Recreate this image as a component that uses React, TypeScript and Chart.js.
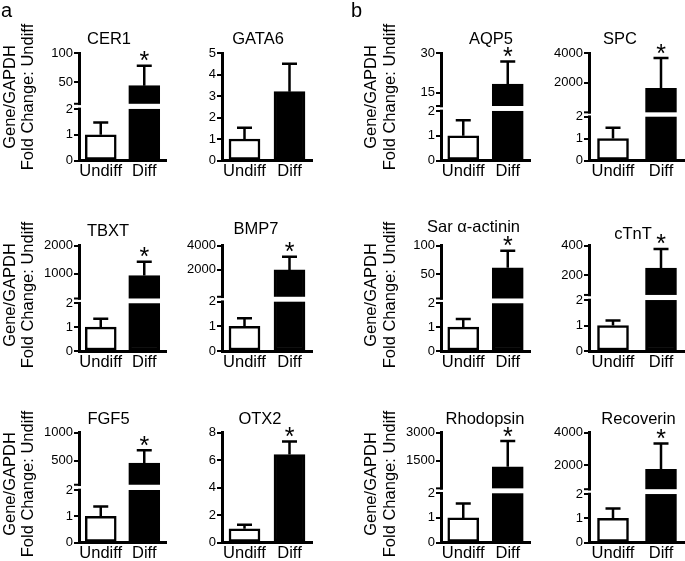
import React, { useEffect, useRef } from 'react';
import { Chart, registerables } from 'chart.js';
Chart.register(...registerables);

const FONT = '"Liberation Sans", Arial, Helvetica, sans-serif';

// ---------------- data ----------------
const genes = ['CER1', 'GATA6', 'AQP5', 'SPC', 'TBXT', 'BMP7', 'Sar α-actinin', 'cTnT', 'FGF5', 'OTX2', 'Rhodopsin', 'Recoverin'];
const categories = ['Undiff', 'Diff'];
const undiffMean = [1, 1, 1, 1, 1, 1, 1, 1, 1, 1, 1, 1];
const undiffSem = [0.47, 0.52, 0.63, 0.5, 0.35, 0.33, 0.34, 0.2, 0.37, 0.3, 0.58, 0.4];
const diffMean = [44, 3.2, 18.2, 1620, 940, 2000, 61, 247, 455, 6.4, 1170, 1730];
const diffSem = [34, 1.3, 8.6, 2040, 484, 1080, 30, 130, 229, 0.94, 1370, 1590];
const significant = [true, false, true, true, true, true, true, true, true, true, true, true];
const yTickLabels = [
  [0, 1, 2, 50, 100], [0, 1, 2, 3, 4, 5], [0, 1, 2, 15, 30], [0, 1, 2, 2000, 4000],
  [0, 1, 2, 1000, 2000], [0, 1, 2, 2000, 4000], [0, 1, 2, 50, 100], [0, 1, 2, 200, 400],
  [0, 1, 2, 500, 1000], [0, 2, 4, 6, 8], [0, 1, 2, 1500, 3000], [0, 1, 2, 2000, 4000],
];
const broken = [true, false, true, true, true, true, true, true, true, false, true, true];
const sideTitle = ['Gene/GAPDH', 'Fold Change: Undiff'];
const panelLetters = ['a', 'b'];

// ---------------- layout / axis-break geometry ----------------
const breakDisp: (number[] | null)[] = [
  [3.04, 4.17], null, [2.74, 4.34], [3.55, 4.91],
  [3.23, 4.42], [3.29, 4.28], [3.22, 4.42], [2.98, 4.14],
  [3.12, 4.19], null, [3.33, 4.47], [3.2, 4.54],
];
const BREAK_TOP = 2.2;
const COLS = [
  { x0: 0, x1: 172, axisX: 79, axisR: 166 },
  { x0: 172, x1: 340, axisX: 222, axisR: 312 },
  { x0: 340, x1: 540, axisX: 441, axisR: 530 },
  { x0: 540, x1: 685, axisX: 589, axisR: 685 },
];
const ROWS = [
  { y0: 0, y1: 185, top: 53, zero: 160.5, side: 97 },
  { y0: 185, y1: 370, top: 245.5, zero: 351, side: 295 },
  { y0: 370, y1: 561, top: 432.5, zero: 542.5, side: 484 },
];
const WY = 40;
const HX = 18;
const titleX = [109, 258, 491, 620, 108, 256, 473.5, 633, 108.5, 260, 485, 638.5];
const titleBase = [43.5, 43.5, 43.5, 43.5, 236, 233.5, 232, 239, 423.5, 424, 423.5, 424];
const sideX = [[10, 28.5], null, [371.5, 390], null];
const letterPos = [[1, 17], [351, 17]];

function toDisp(i: number, v: number) {
  const b = breakDisp[i];
  if (!broken[i] || !b || v <= 2) return v;
  const m = yTickLabels[i][3];
  const t = yTickLabels[i][4];
  return b[0] + ((v - m) * (b[1] - b[0])) / (t - m);
}

function MiniChart({ i }: { i: number }) {
  const ref = useRef<HTMLCanvasElement>(null);
  const row = Math.floor(i / 4);
  const col = i % 4;
  const C = COLS[col];
  const R = ROWS[row];
  const w = C.x1 - C.x0;
  const h = R.y1 - R.y0;

  useEffect(() => {
    const b = breakDisp[i];
    const dispTicks = broken[i] && b ? [0, 1, 2, b[0], b[1]] : yTickLabels[i];
    const yMax = dispTicks[dispTicks.length - 1];
    const means = [undiffMean[i], diffMean[i]];
    const sems = [undiffSem[i], diffSem[i]];

    const decor = {
      id: 'decor',
      afterDatasetsDraw(chart: any) {
        const ctx = chart.ctx;
        const ys = chart.scales.y;
        const meta = chart.getDatasetMeta(0);
        ctx.save();
        if (broken[i]) {
          const y2 = ys.getPixelForValue(2);
          const yU = ys.getPixelForValue(BREAK_TOP);
          meta.data.forEach((el: any, j: number) => {
            if (toDisp(i, means[j]) > BREAK_TOP) {
              ctx.fillStyle = '#fff';
              ctx.fillRect(el.x - el.width / 2 - 1, yU, el.width + 2, y2 - yU);
            }
          });
        }
        ctx.strokeStyle = '#000';
        ctx.lineWidth = 2.5;
        meta.data.forEach((el: any, j: number) => {
          const ye = ys.getPixelForValue(toDisp(i, means[j] + sems[j]));
          ctx.beginPath();
          ctx.moveTo(el.x, el.y);
          ctx.lineTo(el.x, ye);
          ctx.moveTo(el.x - 7.5, ye);
          ctx.lineTo(el.x + 7.5, ye);
          ctx.stroke();
          if (j === 1 && significant[i]) {
            ctx.fillStyle = '#000';
            ctx.font = `25px ${FONT}`;
            ctx.textAlign = 'center';
            ctx.textBaseline = 'alphabetic';
            ctx.fillText('*', el.x, ye + 3.5);
          }
        });
        ctx.restore();
      },
      afterDraw(chart: any) {
        const ctx = chart.ctx;
        const ys = chart.scales.y;
        ctx.save();
        if (broken[i]) {
          const x = chart.chartArea.left;
          const y2 = ys.getPixelForValue(2);
          const yU = ys.getPixelForValue(BREAK_TOP);
          ctx.fillStyle = '#fff';
          ctx.fillRect(x - 3, yU + 1.3, 6, y2 - yU - 2.6);
          ctx.strokeStyle = '#000';
          ctx.lineWidth = 2;
          ctx.beginPath();
          ctx.moveTo(x - 5, yU);
          ctx.lineTo(x + 1.5, yU);
          ctx.stroke();
        }
        ctx.fillStyle = '#000';
        ctx.font = `16.5px ${FONT}`;
        ctx.textAlign = 'center';
        ctx.textBaseline = 'alphabetic';
        ctx.fillText(genes[i], titleX[i] - C.x0, titleBase[i] - R.y0);
        const sx = sideX[col];
        if (sx) {
          sideTitle.forEach((line, k) => {
            ctx.save();
            ctx.translate(sx[k] - C.x0, R.side - R.y0);
            ctx.rotate(-Math.PI / 2);
            ctx.textAlign = 'center';
            ctx.textBaseline = 'middle';
            ctx.font = `16.5px ${FONT}`;
            ctx.fillText(line, 0, 0);
            ctx.restore();
          });
        }
        if (row === 0 && (col === 0 || col === 2)) {
          const li = col === 0 ? 0 : 1;
          ctx.font = `20px ${FONT}`;
          ctx.textAlign = 'left';
          ctx.textBaseline = 'alphabetic';
          ctx.fillText(panelLetters[li], letterPos[li][0] - C.x0, letterPos[li][1] - R.y0);
        }
        ctx.restore();
      },
    };

    const chart = new Chart(ref.current as HTMLCanvasElement, {
      type: 'bar',
      data: {
        labels: categories,
        datasets: [
          {
            data: means.map((v) => toDisp(i, v)),
            backgroundColor: ['#ffffff', '#000000'],
            borderColor: '#000000',
            borderWidth: 2.5,
            borderSkipped: false,
            barThickness: 31,
          },
        ],
      },
      options: {
        responsive: false,
        animation: false,
        devicePixelRatio: 1,
        events: [],
        layout: {
          padding: {
            left: C.axisX - C.x0 - WY,
            right: C.x1 - C.axisR,
            top: R.top - R.y0,
            bottom: R.y1 - R.zero - HX,
          },
        },
        plugins: { legend: { display: false }, tooltip: { enabled: false }, title: { display: false } },
        scales: {
          x: {
            type: 'category',
            offset: true,
            grid: { display: false, drawTicks: false },
            border: { display: true, color: '#000', width: 3 },
            ticks: {
              color: '#000',
              font: { family: FONT, size: 16.5, lineHeight: 1 },
              padding: 3,
              maxRotation: 0,
              autoSkip: false,
            },
            afterFit: (s: any) => {
              s.height = HX;
            },
          },
          y: {
            type: 'linear',
            min: 0,
            max: yMax,
            grid: { drawOnChartArea: false, drawTicks: true, tickLength: 5, color: '#000', lineWidth: 2 },
            border: { display: true, color: '#000', width: 3 },
            ticks: {
              color: '#000',
              font: { family: FONT, size: 13 },
              padding: 1,
              autoSkip: false,
              callback: (_v: any, idx: number) => String(yTickLabels[i][idx]),
            },
            afterBuildTicks: (s: any) => {
              s.ticks = dispTicks.map((v) => ({ value: v }));
            },
            afterFit: (s: any) => {
              s.width = WY;
            },
          },
        },
      },
      plugins: [decor],
    } as any);
    return () => chart.destroy();
  }, [i]);

  return (
    <canvas
      ref={ref}
      width={w}
      height={h}
      style={{ position: 'absolute', left: C.x0, top: R.y0, width: w, height: h }}
    />
  );
}

export default function App() {
  return (
    <div style={{ position: 'absolute', left: 0, top: 0, width: 685, height: 561, background: '#fff', overflow: 'hidden' }}>
      {genes.map((_, i) => (
        <MiniChart key={i} i={i} />
      ))}
    </div>
  );
}
